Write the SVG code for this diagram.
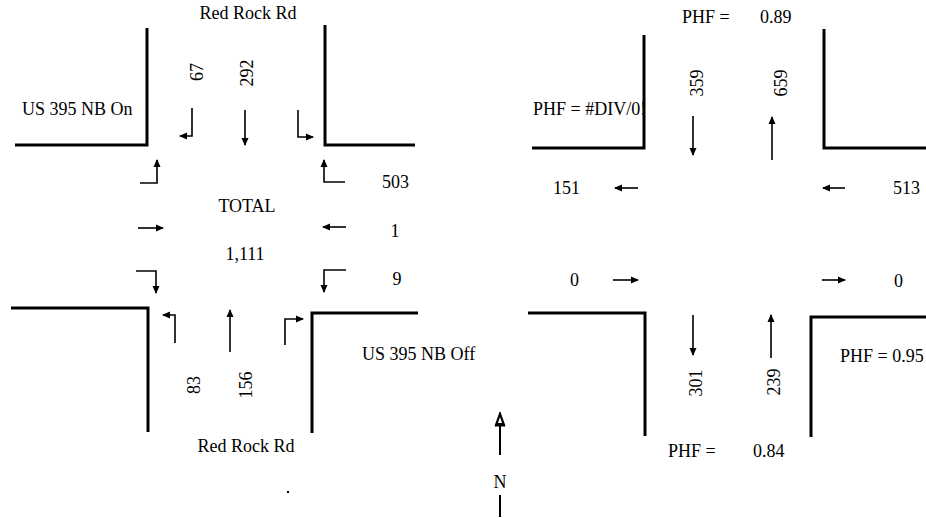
<svg xmlns="http://www.w3.org/2000/svg" width="926" height="518" viewBox="0 0 926 518">
<defs>
<marker id="ah" viewBox="0 0 8 8" refX="7" refY="4" markerWidth="8" markerHeight="8" markerUnits="userSpaceOnUse" orient="auto">
<path d="M0,0.5 L8,4 L0,7.5 z" fill="#000"/>
</marker>
</defs>
<style>
.curb{fill:none;stroke:#000;stroke-width:3;stroke-linejoin:miter}
.arr{fill:none;stroke:#000;stroke-width:1.6;marker-end:url(#ah)}
text{font-family:"Liberation Serif","Times New Roman",serif;font-size:18px;fill:#000}
.m{text-anchor:middle}
</style>
<rect width="926" height="518" fill="#fff"/>

<g id="left-intersection">
<g id="left-curbs">
<path class="curb" d="M15,145 H147 V28"/>
<path class="curb" d="M325,25 V145 H415"/>
<path class="curb" d="M11,308 H148 V432"/>
<path class="curb" d="M312,433 V313 H418"/>
</g>
<g id="left-movements">
<path class="arr" d="M192,108 V136 H180"/>
<path class="arr" d="M245,110 V145"/>
<path class="arr" d="M298,110 V137 H313"/>
<path class="arr" d="M140,183 H157 V160"/>
<path class="arr" d="M138,228 H163"/>
<path class="arr" d="M136,271 H156 V293"/>
<path class="arr" d="M345,182 H324 V160"/>
<path class="arr" d="M346,227 H323"/>
<path class="arr" d="M346,270 H324 V292"/>
<path class="arr" d="M175,343 V315 H163"/>
<path class="arr" d="M230,352 V310"/>
<path class="arr" d="M285,345 V319 H303"/>
</g>
<g id="left-labels">
<text class="m" x="248" y="19">Red Rock Rd</text>
<text x="22" y="115">US 395 NB On</text>
<text class="m" transform="translate(203,72) rotate(-90)">67</text>
<text class="m" transform="translate(253,73) rotate(-90)">292</text>
<text x="382" y="188">503</text>
<text class="m" x="247" y="212">TOTAL</text>
<text class="m" x="395" y="237">1</text>
<text class="m" x="245" y="260">1,111</text>
<text class="m" x="397" y="285">9</text>
<text class="m" transform="translate(200,385) rotate(-90)">83</text>
<text class="m" transform="translate(252,385) rotate(-90)">156</text>
<text class="m" x="246" y="452">Red Rock Rd</text>
<text x="362" y="360">US 395 NB Off</text>
</g>
</g>

<g id="right-intersection">
<g id="right-curbs">
<path class="curb" d="M532,148 H644 V35"/>
<path class="curb" d="M824,29 V148 H926"/>
<path class="curb" d="M528,313 H645 V436"/>
<path class="curb" d="M811,437 V317 H926"/>
</g>
<g id="right-movements">
<path class="arr" d="M693,116 V155"/>
<path class="arr" d="M772,160 V117"/>
<path class="arr" d="M638,188 H615"/>
<path class="arr" d="M845,188 H823"/>
<path class="arr" d="M613,280 H638"/>
<path class="arr" d="M822,280 H845"/>
<path class="arr" d="M693,315 V355"/>
<path class="arr" d="M771,358 V315"/>
</g>
<g id="right-labels">
<text x="682" y="23">PHF =</text>
<text x="760" y="23">0.89</text>
<text x="533" y="115">PHF = #DIV/0!</text>
<text class="m" transform="translate(703,83) rotate(-90)">359</text>
<text class="m" transform="translate(787,83) rotate(-90)">659</text>
<text x="553" y="194">151</text>
<text x="893" y="194">513</text>
<text x="570" y="286">0</text>
<text x="894" y="287">0</text>
<text class="m" transform="translate(702,383) rotate(-90)">301</text>
<text class="m" transform="translate(780,382) rotate(-90)">239</text>
<text x="840" y="362">PHF = 0.95</text>
<text x="668" y="457">PHF =</text>
<text x="753" y="457">0.84</text>
</g>
</g>

<g id="north-arrow">
<path d="M500,455 V420" stroke="#000" stroke-width="2" fill="none"/>
<path d="M500,412 L505,426 L495,426 z" fill="#000" stroke="#000" stroke-width="1"/>
<path d="M500,417 L502,423 L498,423 z" fill="#fff"/>
<text class="m" x="500" y="488">N</text>
<path d="M500,495 V517" stroke="#000" stroke-width="2"/>
</g>
<rect x="287" y="491" width="2" height="2" fill="#000"/>
</svg>
